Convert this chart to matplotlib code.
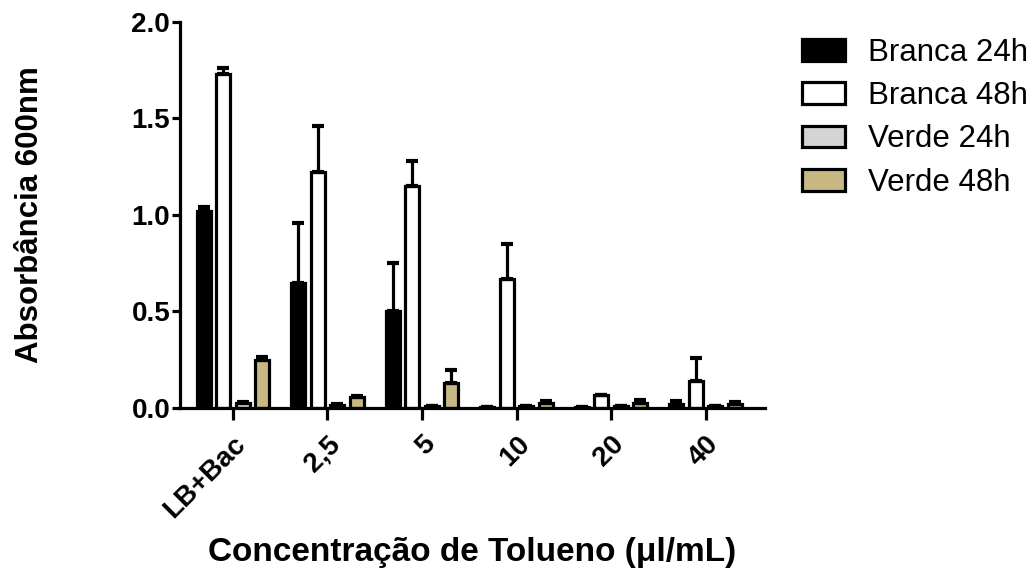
import matplotlib.pyplot as plt
import numpy as np

plt.rcParams['font.family'] = ['Liberation Sans', 'DejaVu Sans']

categories = ['LB+Bac', '2,5', '5', '10', '20', '40']
series = ['Branca 24h', 'Branca 48h', 'Verde 24h', 'Verde 48h']
branca_24 = [1.02, 0.65, 0.50, 0.003, 0.003, 0.02]
branca_24_err = [0.02, 0.31, 0.25, 0.0, 0.0, 0.015]
branca_48 = [1.73, 1.22, 1.15, 0.67, 0.065, 0.14]
branca_48_err = [0.03, 0.24, 0.13, 0.18, 0.0, 0.12]
verde_24 = [0.025, 0.015, 0.008, 0.008, 0.008, 0.008]
verde_24_err = [0.005, 0.005, 0.0, 0.0, 0.0, 0.0]
verde_48 = [0.25, 0.055, 0.13, 0.025, 0.025, 0.02]
verde_48_err = [0.015, 0.008, 0.065, 0.01, 0.015, 0.012]

colors = ['black', 'white', '#d4d4d4', '#c8b984']
values = [branca_24, branca_48, verde_24, verde_48]
errors = [branca_24_err, branca_48_err, verde_24_err, verde_48_err]

fig = plt.figure(figsize=(10.34, 5.72), dpi=100)
ax = fig.add_axes([0.174, 0.2867, 0.566, 0.675])

x = np.arange(len(categories))
pitch = 0.206
width = 0.15
for i, (vals, errs, col, name) in enumerate(zip(values, errors, colors, series)):
    pos = x + (i - 1.5) * pitch
    ax.bar(pos, vals, width, color=col, edgecolor='black', linewidth=2.3, label=name, zorder=2)
    ax.errorbar(pos, vals, yerr=[np.zeros(len(vals)), errs], fmt='none', ecolor='black',
                elinewidth=2.3, capsize=4.2, capthick=3, zorder=3)

ax.set_xlim(-0.56, 5.63)
ax.set_ylim(0, 2.0)
ax.set_yticks([0, 0.5, 1.0, 1.5, 2.0])
ax.set_yticklabels(['0.0', '0.5', '1.0', '1.5', '2.0'], fontsize=20, fontweight='bold')
ax.set_xticks(x)
ax.set_xticklabels(categories, rotation=45, ha='right', rotation_mode='anchor',
                   fontsize=20, fontweight='bold')
ax.tick_params(axis='both', width=2.3, direction='out')
ax.tick_params(axis='x', length=8.5, pad=8)
ax.tick_params(axis='y', length=6, pad=1)
for s in ['top', 'right']:
    ax.spines[s].set_visible(False)
for s in ['left', 'bottom']:
    ax.spines[s].set_linewidth(2.3)

ax.set_ylabel('Absorbância 600nm', fontsize=22.5, fontweight='bold', labelpad=62)
ax.set_xlabel('Concentração de Tolueno (μl/mL)', fontsize=24, fontweight='bold', labelpad=10)

fig.legend(loc='upper left', bbox_to_anchor=(0.764, 0.955), frameon=False, fontsize=22.5,
           handlelength=1.35, handleheight=0.7, labelspacing=0.42, handletextpad=0.75,
           borderaxespad=0)

fig.savefig('out.png', dpi=100)
